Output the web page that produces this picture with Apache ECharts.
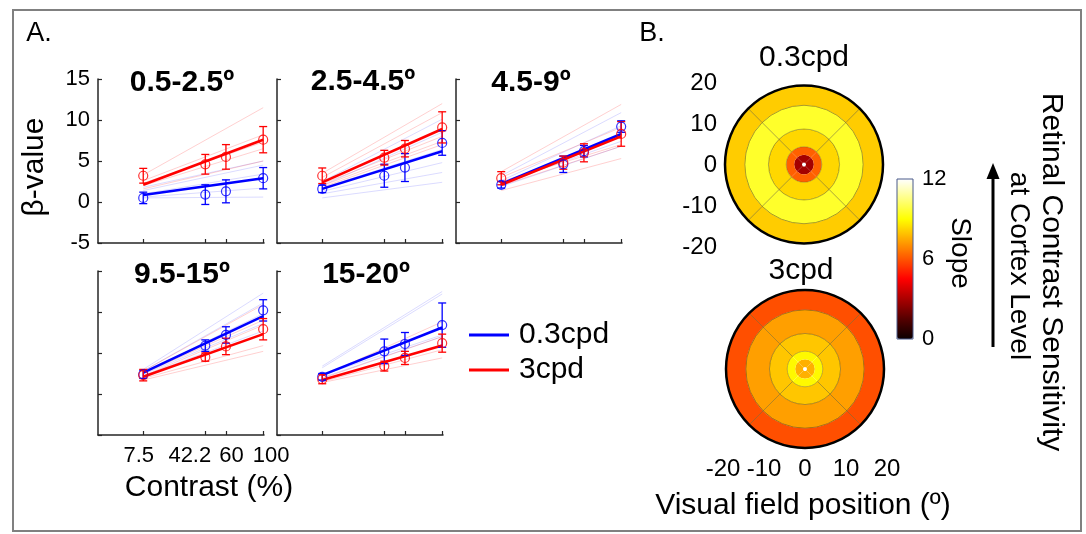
<!DOCTYPE html>
<html><head><meta charset="utf-8">
<script src="https://cdn.jsdelivr.net/npm/echarts@6/dist/echarts.min.js"></script>
<style>html,body{margin:0;padding:0;background:#fff}#c{width:1086px;height:534px}</style>
</head><body><div id="c"></div>
<script>
// ---------------- DATA ----------------
const contrasts = [7.5, 42.2, 60, 100];
const xTickLabels = ['7.5', '42.2', '60', '100'];
const yTicks = [-5, 15, 5];
const panelTitles = ['0.5-2.5\u00ba', '2.5-4.5\u00ba', '4.5-9\u00ba', '9.5-15\u00ba', '15-20\u00ba'];
const condNames = ['0.3cpd', '3cpd'];
// mean beta at each contrast (per eccentricity panel)
const meanLow  = [[0.5,0.9,1.3,2.9],[1.6,3.2,4.2,7.2],[2.1,4.6,6.2,9.2],[2.4,5.9,7.2,10.2],[2.1,5.2,6.1,8.4]];
const errLow   = [[0.7,1.2,1.4,1.3],[0.45,1.4,1.7,1.5],[0.4,1.0,0.7,0.7],[0.5,0.7,1.0,1.3],[0.4,1.5,1.4,2.7]];
const meanHigh = [[3.2,4.6,5.5,7.6],[3.2,5.4,6.5,9.1],[2.9,4.8,6.0,8.3],[2.3,4.5,5.8,7.9],[1.8,3.4,4.4,6.2]];
const errHigh  = [[0.9,1.2,1.5,1.6],[0.95,0.9,1.0,1.9],[0.8,0.8,1.1,1.5],[0.7,0.5,1.0,1.3],[0.55,0.6,0.8,1.1]];
// group fit lines: value at 7.5% and at 100%
const fitLow  = [[0.85,2.9],[1.6,6.2],[2.2,8.3],[2.6,9.5],[2.3,8.1]];
const fitHigh = [[2.1,7.6],[2.4,8.9],[2.1,8.0],[2.1,7.3],[1.7,5.9]];
// individual subject fits: [value at 7.5%, value at 100%]
const subjLow = [
  [[1.8,5.0],[1.4,4.5],[1.0,3.4],[0.6,1.7],[0.5,0.6]],
  [[2.5,10.1],[2.0,8.5],[1.7,6.4],[1.3,4.8],[1.0,3.6],[0.5,2.4]],
  [[3.2,10.9],[2.6,9.3],[2.3,7.4],[1.9,6.8],[2.0,8.0]],
  [[3.0,12.3],[2.8,11.1],[2.4,8.6],[2.2,7.7],[2.6,9.8]],
  [[3.4,12.5],[3.2,12.2],[2.3,7.2],[2.0,7.0]]
];
const subjHigh = [
  [[3.3,11.5],[2.6,8.2],[2.3,7.3],[2.0,6.5],[1.6,5.0]],
  [[3.5,12.0],[3.0,10.9],[2.2,8.0],[2.0,7.4],[1.8,7.0]],
  [[3.7,11.9],[3.0,9.1],[2.5,7.0],[1.4,5.3],[2.0,6.8]],
  [[2.8,10.9],[2.5,9.0],[2.2,8.4],[1.9,5.9],[1.7,5.2]],
  [[2.2,8.8],[1.9,7.0],[1.5,5.4],[1.4,4.4]]
];
// panel B: eccentricity ring edges (deg) and slope per ring
const ringEdges = [0, 0.5, 2.5, 4.5, 9, 15, 20];
const slopeLow  = [2.9, 6.2, 8.3, 9.5, 8.1];
const slopeHigh = [7.6, 8.9, 8.0, 7.3, 5.9];
const quadrants = ['up', 'right', 'down', 'left'];
const fieldTicks = [-20, 20, 10];
const slopeTicks = [0, 12, 6];
const hotColors = ['#0b0000','#550000','#aa0000','#ff0000','#ff5500','#ffaa00','#ffff00','#ffff80','#ffffff'];

// ---------------- LAYOUT ----------------
const FONT = "'Liberation Sans', Arial, Helvetica, sans-serif";
const sq = Math.sqrt;
const xs = contrasts.map(c => sq(c));
const panelPos = [{left:98,top:79},{left:277,top:79},{left:456,top:79},{left:98,top:271},{left:277,top:271}];
const titlePos = [[182,83],[363,82],[531,83],[182,275],[366,275]];
const AX = '#262626';
const BLUE = '#0000ff', RED = '#ff0000';

const grid = [], xAxis = [], yAxis = [], series = [];
const labelPad = [[0,9,0,0],[0,31,0,0],[0,0,0,11],[0,0,0,16]];
const rich = {};
labelPad.forEach((p,i)=>{ rich['t'+i] = {fontSize:22, color:'#000', fontFamily:FONT, padding:p}; });

panelPos.forEach((p, i) => {
  grid.push({left:p.left, top:p.top, width:166, height:164});
  xAxis.push({
    gridIndex:i, type:'value', min:0, max:10.05,
    axisLine:{show:true, onZero:false, lineStyle:{color:AX, width:1.5}},
    axisTick:{show:true, inside:true, length:4, customValues:xs, lineStyle:{color:AX, width:1.2}},
    axisLabel:{show:i===3, customValues:xs, margin:10, fontSize:22, color:'#000',
      formatter:(v)=>{ const k = xs.findIndex(x=>Math.abs(x-v)<1e-6); return k<0 ? '' : '{t'+k+'|'+xTickLabels[k]+'}'; },
      rich: rich},
    splitLine:{show:false}
  });
  yAxis.push({
    gridIndex:i, type:'value', min:yTicks[0], max:yTicks[1], interval:yTicks[2],
    axisLine:{show:true, onZero:false, lineStyle:{color:AX, width:1.5}},
    axisTick:{show:true, inside:true, length:4, lineStyle:{color:AX, width:1.2}},
    axisLabel:{show:i===0, margin:8, fontSize:22, color:'#000'},
    splitLine:{show:false}
  });
  subjLow[i].forEach(l => series.push({type:'line', xAxisIndex:i, yAxisIndex:i, silent:true, symbol:'none', z:1,
    data:[[xs[0], l[0]],[xs[3], l[1]]], lineStyle:{color:'rgba(40,40,255,0.17)', width:1}}));
  subjHigh[i].forEach(l => series.push({type:'line', xAxisIndex:i, yAxisIndex:i, silent:true, symbol:'none', z:1,
    data:[[xs[0], l[0]],[xs[3], l[1]]], lineStyle:{color:'rgba(255,40,40,0.22)', width:1}}));
  [[fitLow, meanLow, errLow, BLUE, condNames[0]], [fitHigh, meanHigh, errHigh, RED, condNames[1]]].forEach(([fit, mean, err, col, name]) => {
    series.push({type:'line', name:name, xAxisIndex:i, yAxisIndex:i, symbol:'none', z:2, silent:true,
      data:[[xs[0], fit[i][0]],[xs[3], fit[i][1]]], itemStyle:{color:col}, lineStyle:{color:col, width:2.6}});
    series.push({type:'custom', xAxisIndex:i, yAxisIndex:i, z:3, silent:true, encode:{x:0, y:1},
      data: xs.map((x,j)=>[x, mean[i][j], err[i][j]]),
      renderItem:(params, api)=>{
        const x = api.value(0), y = api.value(1), e = api.value(2);
        const lo = api.coord([x, y-e]), hi = api.coord([x, y+e]);
        const w = 4, st = {stroke:col, lineWidth:1.3, fill:null};
        return {type:'group', children:[
          {type:'line', shape:{x1:lo[0],y1:lo[1],x2:hi[0],y2:hi[1]}, style:st},
          {type:'line', shape:{x1:lo[0]-w,y1:lo[1],x2:lo[0]+w,y2:lo[1]}, style:st},
          {type:'line', shape:{x1:hi[0]-w,y1:hi[1],x2:hi[0]+w,y2:hi[1]}, style:st}
        ]};
      }});
    series.push({type:'scatter', xAxisIndex:i, yAxisIndex:i, z:4, silent:true, symbol:'circle', symbolSize:9,
      data: xs.map((x,j)=>[x, mean[i][j]]), itemStyle:{color:'rgba(0,0,0,0)', borderColor:col, borderWidth:1.2}});
  });
});

// panel B label grids
grid.push({left:724, top:83, width:160, height:164});   // 5: top bullseye y labels
xAxis.push({gridIndex:5, type:'value', min:-20, max:20, show:false});
yAxis.push({gridIndex:5, type:'value', min:fieldTicks[0], max:fieldTicks[1], interval:fieldTicks[2],
  axisLine:{show:false}, axisTick:{show:false}, splitLine:{show:false},
  axisLabel:{margin:7, fontSize:24, color:'#000'}});
grid.push({left:723, top:287, width:164, height:164});  // 6: bottom bullseye x labels
xAxis.push({gridIndex:6, type:'value', min:fieldTicks[0], max:fieldTicks[1], interval:fieldTicks[2],
  axisLine:{show:false, onZero:false}, axisTick:{show:false}, splitLine:{show:false},
  axisLabel:{margin:6, fontSize:24, color:'#000'}});
yAxis.push({gridIndex:6, type:'value', min:-20, max:20, show:false});
grid.push({left:897, top:179, width:16, height:160, show:true, z:6, borderColor:'#4a5a8a', borderWidth:1, backgroundColor:'rgba(0,0,0,0)'}); // 7 colorbar
xAxis.push({gridIndex:7, type:'value', show:false, min:0, max:1});
yAxis.push({gridIndex:7, type:'value', position:'right', min:slopeTicks[0], max:slopeTicks[1], interval:slopeTicks[2],
  axisLine:{show:false}, axisTick:{show:false}, splitLine:{show:false},
  axisLabel:{margin:9, fontSize:22, color:'#000'}});

// bullseye rings
const thick = ringEdges.slice(1).map((e,k)=>e-ringEdges[k]);
const ringSeries = [];
[slopeLow, slopeHigh].forEach((slopes, p) => {
  series.push({type:'bar', coordinateSystem:'polar', polarIndex:p, stack:'r'+p, silent:true, barCategoryGap:'0%',
    data: quadrants.map((q,qi)=>[qi, thick[0]]), encode:{angle:0, radius:1}, itemStyle:{color:'#ffffff'}});
  for (let k=1; k<thick.length; k++) {
    series.push({type:'bar', coordinateSystem:'polar', polarIndex:p, stack:'r'+p, silent:true, barCategoryGap:'0%',
      encode:{angle:0, radius:1},
      data: quadrants.map((q,qi)=>({value:[qi, thick[k], slopes[k-1]],
        itemStyle: k>=3 ? {borderColor:'rgba(90,80,20,0.45)', borderWidth:0.8} : {borderWidth:0}}))});
    ringSeries.push(series.length-1);
  }
});

const txt = (x, y, text, size, opts={}) => ({type:'text', x, y, rotation:opts.rot||0, silent:true, z:20,
  style:{text, font:(opts.bold?'bold ':'')+size+'px '+FONT, fill:'#000', textAlign:'center', textVerticalAlign:'middle'}});

const graphic = [
  {type:'rect', silent:true, z:-5, shape:{x:13, y:10, width:1068, height:521}, style:{fill:'none', stroke:'#808080', lineWidth:2}},
  txt(39, 34, 'A.', 27),
  txt(652, 34, 'B.', 27),
  txt(35, 167, '\u03b2-value', 30, {rot:Math.PI/2}),
  txt(209, 488, 'Contrast (%)', 30),
  txt(804, 58, '0.3cpd', 30),
  txt(801, 271, '3cpd', 30),
  txt(803, 506, 'Visual field position (\u00ba)', 30),
  txt(960, 253, 'Slope', 28, {rot:-Math.PI/2}),
  txt(1019, 266, 'at Cortex Level', 28, {rot:-Math.PI/2}),
  txt(1051, 272, 'Retinal Contrast Sensitivity', 30, {rot:-Math.PI/2}),
  {type:'line', silent:true, z:20, shape:{x1:993, y1:347, x2:993, y2:176}, style:{stroke:'#000', lineWidth:3}},
  {type:'polygon', silent:true, z:20, shape:{points:[[986.5,179],[999.5,179],[993,163]]}, style:{fill:'#000'}}
];
panelTitles.forEach((t,i)=>graphic.push(txt(titlePos[i][0], titlePos[i][1], t, 30, {bold:true})));

const option = {
  animation:false,
  backgroundColor:'#ffffff',
  textStyle:{fontFamily:FONT},
  grid, xAxis, yAxis,
  polar:[{center:[804,164.5], radius:79}, {center:[805,369], radius:79}],
  angleAxis:[0,1].map(p=>({polarIndex:p, type:'category', data:quadrants, startAngle:135, clockwise:true, z:10,
    axisLine:{show:true, lineStyle:{color:'#000', width:2.5}}, axisTick:{show:false}, axisLabel:{show:false}, splitLine:{show:false}})),
  radiusAxis:[0,1].map(p=>({polarIndex:p, type:'value', min:0, max:20,
    axisLine:{show:false}, axisTick:{show:false}, axisLabel:{show:false}, splitLine:{show:false}})),
  visualMap:[{type:'continuous', min:0, max:12, dimension:2, seriesIndex:ringSeries, inRange:{color:hotColors},
    calculable:false, left:892, top:174, itemWidth:16, itemHeight:160, text:null, padding:5}],
  legend:{data:condNames, orient:'vertical', left:464, top:315, itemWidth:40, itemHeight:3, icon:'rect', itemGap:5,
    textStyle:{fontSize:30, color:'#000', lineHeight:30, padding:[0,0,0,5]}},
  graphic:{elements:graphic},
  series
};
const chart = echarts.init(document.getElementById('c'));
chart.setOption(option);
</script></body></html>
